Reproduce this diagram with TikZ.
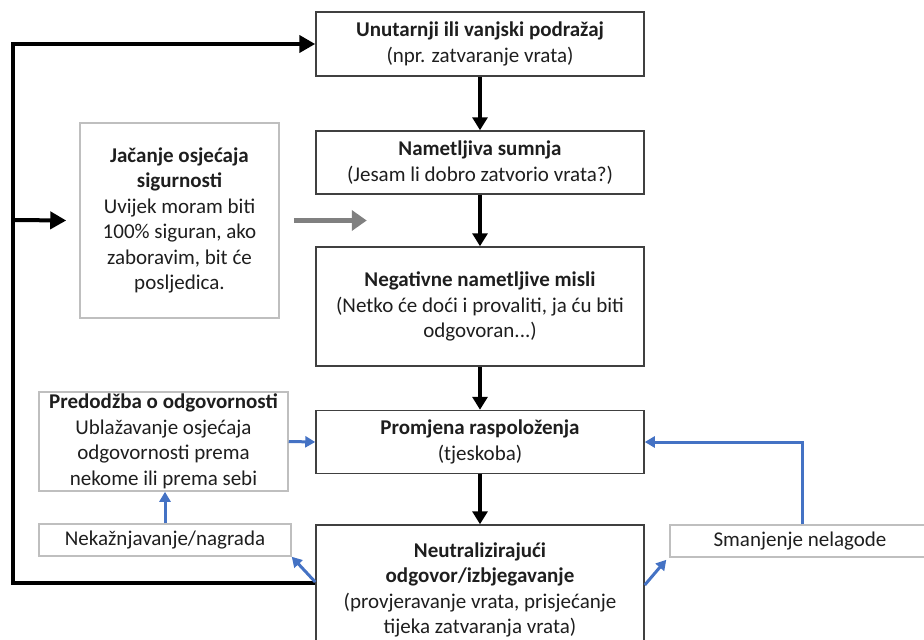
\documentclass[tikz,border=0pt]{standalone}
\usepackage{fontspec}
\setmainfont{Carlito}
\usetikzlibrary{arrows.meta}
\definecolor{bcol}{RGB}{64,64,64}
\definecolor{lcol}{RGB}{191,191,191}
\definecolor{fcol}{RGB}{68,114,196}
\definecolor{gcol}{RGB}{128,128,128}
\definecolor{tcol}{RGB}{30,30,30}
\tikzset{every node/.style={font=\fontsize{21}{25.5}\selectfont,text=tcol,align=center,inner sep=0pt}}
\tikzset{mainbox/.style={draw=bcol,line width=1.5pt,minimum width=328pt}}
\tikzset{lightbox/.style={draw=lcol,line width=1.5pt}}
\tikzset{flow/.style={line width=3.5pt,-{Triangle[length=13pt,width=15pt]}}}
\tikzset{loopline/.style={line width=4pt,line join=miter,-{Triangle[length=16pt,width=17pt]}}}
\tikzset{fb/.style={fcol,line width=3pt,-{Triangle[length=10pt,width=11pt]}}}
\tikzset{hint/.style={gcol,line width=5pt,-{Triangle[length=15pt,width=20pt]}}}

\begin{document}
\begin{tikzpicture}[x=1pt,y=-1pt]
\useasboundingbox (0,0) rectangle (924,640);

\node [mainbox,minimum height=64pt] (stim) at (480,44) {\textbf{Unutarnji ili vanjski podražaj}\\(npr. zatvaranje vrata)};
\node [mainbox,minimum height=63pt] (doubt) at (480,162.5) {\textbf{Nametljiva sumnja}\\(Jesam li dobro zatvorio vrata?)};
\node [mainbox,minimum height=119pt] (neg) at (480,306.5) {\textbf{Negativne nametljive misli}\\(Netko će doći i provaliti, ja ću biti\\odgovoran...)};
\node [mainbox,minimum height=63pt] (mood) at (480,442) {\textbf{Promjena raspoloženja}\\(tjeskoba)};
\node [mainbox,minimum height=130pt] (neut) at (480,590) {\textbf{Neutralizirajući}\\\textbf{odgovor/izbjegavanje}\\(provjeravanje vrata, prisjećanje\\tijeka zatvaranja vrata)};

\node [lightbox,minimum width=199pt,minimum height=195pt] (safe) at (179.5,220.5) {\textbf{Jačanje osjećaja}\\\textbf{sigurnosti}\\Uvijek moram biti\\100\% siguran, ako\\zaboravim, bit će\\posljedica.};
\node [lightbox,minimum width=249pt,minimum height=99pt] (image) at (163.5,441.5) {\textbf{Predodžba o odgovornosti}\\Ublažavanje osjećaja\\odgovornosti prema\\nekome ili prema sebi};
\node [lightbox,minimum width=252pt,minimum height=32pt] (reward) at (165,540) {Nekažnjavanje/nagrada};
\node [lightbox,minimum width=260pt,minimum height=32pt] (relief) at (800,541) {Smanjenje nelagode};

\coordinate (lb) at (13,583);
\coordinate (lt) at (13,44);
\coordinate (lm) at (13,220);

\draw [flow] (stim) -- (doubt);
\draw [flow] (doubt) -- (neg);
\draw [flow] (neg) -- (mood);
\draw [flow] (mood) -- (neut);

\draw [loopline] ([yshift=7pt]neut.west) -- (lb) -- (lt) -- (stim.west);
\draw [loopline] (lm) -- ([xshift=-13pt]safe.west);

\draw [hint] ([xshift=14pt]safe.east) -- ([xshift=87pt]safe.east);

\draw [fb] (reward.north) -- (reward.north |- image.south);
\draw [fb] (image.east) -- (mood.west);
\draw [fb] ([yshift=8pt]neut.west) -- (reward.south east);
\draw [fb] ([yshift=5pt]neut.east) -- ([xshift=-3pt,yshift=-2pt]relief.south west);
\draw [fb,line join=miter] ([xshift=2pt]relief.north) |- (mood.east);
\end{tikzpicture}
\end{document}
